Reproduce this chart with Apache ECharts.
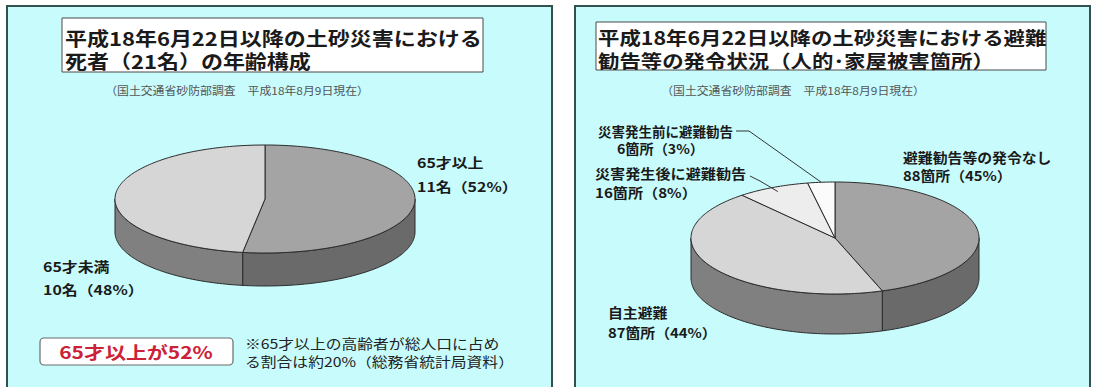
<!DOCTYPE html>
<html><head><meta charset="utf-8">
<script src="https://cdn.jsdelivr.net/npm/echarts@6/dist/echarts.min.js"></script>
<style>html,body{margin:0;padding:0;background:#fff}#c{width:1093px;height:387px}</style>
</head><body><div id="c"></div>
<script>
// ---- data ----
const ageCategories = ['65才以上', '65才未満'];
const ageValues = [11, 10];
const ageUnit = '名';
const warnCategories = ['避難勧告等の発令なし', '自主避難', '災害発生後に避難勧告', '災害発生前に避難勧告'];
const warnValues = [88, 87, 16, 6];
const warnUnit = '箇所';
const elderlyShareNote = 20;

// ---- layout ----
const FONT = '"Noto Sans CJK JP", "Noto Sans", sans-serif';
const SX = 1.18;
const PIE_L = {cx: 265, cy: 199, rx: 150, ry: 54, depth: 33};
const PIE_R = {cx: 835, cy: 238, rx: 144, ry: 56, depth: 40};
const TOP_COLORS_L = ['#a4a4a4', '#d6d6d6'];
const WALL_COLORS_L = ['#6a6a6a', '#808080'];
const TOP_COLORS_R = ['#a4a4a4', '#d6d6d6', '#ededed', '#fbfbfb'];
const WALL_COLORS_R = ['#6a6a6a', '#808080', '#9a9a9a', '#b0b0b0'];

const sum = a => a.reduce((s, v) => s + v, 0);
const pct = (v, a) => Math.round(v / sum(a) * 100);
function ang(values, i) { return sum(values.slice(0, i)) / sum(values) * Math.PI * 2; }
function pt(L, t, r, dy) { return [L.cx + L.rx * r * Math.sin(t), L.cy - L.ry * r * Math.cos(t) + (dy || 0)]; }
function arc(L, a0, a1, dy) {
  const n = Math.max(2, Math.ceil((a1 - a0) / 0.02));
  const out = [];
  for (let k = 0; k <= n; k++) out.push(pt(L, a0 + (a1 - a0) * k / n, 1, dy));
  return out;
}
function pieRenderer(L, values, tops, walls) {
  return function (params, api) {
    const i = params.dataIndex;
    const a0 = ang(values, i);
    const a1 = a0 + api.value(0) / sum(values) * Math.PI * 2;
    const children = [];
    const w0 = Math.max(a0, Math.PI / 2), w1 = Math.min(a1, Math.PI * 1.5);
    if (w1 > w0) {
      const topArc = arc(L, w0, w1, 0);
      const botArc = arc(L, w0, w1, L.depth).reverse();
      children.push({type: 'polygon', shape: {points: topArc.concat(botArc)},
        style: {fill: walls[i], stroke: '#2a2a2a', lineWidth: 1}});
    }
    children.push({type: 'polygon', shape: {points: [[L.cx, L.cy]].concat(arc(L, a0, a1, 0))},
      style: {fill: tops[i], stroke: '#2a2a2a', lineWidth: 1}});
    return {type: 'group', children: children};
  };
}
function midPoint(L, values, i, r) {
  const a = (ang(values, i) + ang(values, i + 1)) / 2;
  return pt(L, a, r, 0);
}
function txt(x, y, text, size, opt) {
  opt = opt || {};
  return {type: 'text', x: x, y: y, scaleX: opt.sx || SX, z: 10,
    style: {text: text, fontSize: size, fontFamily: FONT, fontWeight: opt.weight || 'bold',
      fill: opt.fill || '#1a1a1a', align: opt.align || 'left', verticalAlign: 'middle',
      textAlign: opt.align || 'left', textVerticalAlign: 'middle', lineHeight: opt.lh || size * 1.3}};
}

const totalAge = sum(ageValues);
const graphics = [
  // panels
  {type: 'rect', shape: {x: 7, y: 6, width: 545, height: 390}, z: 0, style: {fill: '#c8fcfc', stroke: '#36504f', lineWidth: 2}},
  {type: 'rect', shape: {x: 575, y: 6, width: 515, height: 390}, z: 0, style: {fill: '#c8fcfc', stroke: '#36504f', lineWidth: 2}},
  // title boxes
  {type: 'rect', shape: {x: 62, y: 18, width: 421, height: 54}, z: 1, style: {fill: '#ffffff', stroke: '#4a4a4a', lineWidth: 1}},
  {type: 'rect', shape: {x: 596, y: 22, width: 450, height: 48}, z: 1, style: {fill: '#ffffff', stroke: '#4a4a4a', lineWidth: 1}},
  txt(65, 38, '平成18年6月22日以降の土砂災害における', 18.8, {sx: 1.17}),
  txt(65, 61, '死者（' + totalAge + ageUnit + '）の年齢構成', 18.8, {sx: 1.17}),
  txt(598, 37, '平成18年6月22日以降の土砂災害における避難', 18.3, {sx: 1.17}),
  txt(598, 60, '勧告等の発令状況（人的･家屋被害箇所）', 18.3, {sx: 1.17}),
  txt(237, 90, '（国土交通省砂防部調査　平成18年8月9日現在）', 11, {weight: 'normal', fill: '#555', align: 'center', sx: 1.08}),
  txt(793, 90, '（国土交通省砂防部調査　平成18年8月9日現在）', 11, {weight: 'normal', fill: '#555', align: 'center', sx: 1.08}),
  // left labels
  txt(417, 174, ageCategories[0] + '\n' + ageValues[0] + ageUnit + '（' + pct(ageValues[0], ageValues) + '%）', 13.5, {lh: 24}),
  txt(43, 278, ageCategories[1] + '\n' + ageValues[1] + ageUnit + '（' + pct(ageValues[1], ageValues) + '%）', 13.5, {lh: 23}),
  // red box
  {type: 'rect', shape: {x: 40, y: 338, width: 193, height: 27, r: 4}, z: 1, style: {fill: '#ffffff', stroke: '#6a6a6a', lineWidth: 1.2}},
  txt(136, 352, ageCategories[0].replace('以上', '以上が') + pct(ageValues[0], ageValues) + '%', 17.5, {align: 'center', fill: '#cc2238', sx: 1.2}),
  txt(245, 352, '※65才以上の高齢者が総人口に占め\nる割合は約' + elderlyShareNote + '%（総務省統計局資料）', 13.5, {weight: 'normal', fill: '#222', lh: 18, sx: 1.17}),
  // right labels
  txt(903, 166, warnCategories[0] + '\n' + warnValues[0] + warnUnit + '（' + pct(warnValues[0], warnValues) + '%）', 13.5, {lh: 18, sx: 1.1}),
  txt(608, 322, warnCategories[1] + '\n' + warnValues[1] + warnUnit + '（' + pct(warnValues[1], warnValues) + '%）', 13.5, {lh: 20, sx: 1.1}),
  txt(595, 182, warnCategories[2] + '\n' + warnValues[2] + warnUnit + '（' + pct(warnValues[2], warnValues) + '%）', 13.5, {lh: 19, sx: 1.12}),
  txt(598, 131, warnCategories[3], 13.5, {sx: 1.0}),
  txt(617, 148, warnValues[3] + warnUnit + '（' + pct(warnValues[3], warnValues) + '%）', 13.5, {sx: 1.05}),
  // leader lines
  {type: 'polyline', z: 9, shape: {points: [[736, 131], [749, 131], midPoint(PIE_R, warnValues, 3, 1.0)]}, style: {stroke: '#333', lineWidth: 1, fill: null}},
  {type: 'polyline', z: 9, shape: {points: [[750, 176], [760, 181], midPoint(PIE_R, warnValues, 2, 0.92)]}, style: {stroke: '#333', lineWidth: 1, fill: null}}
];

const chart = echarts.init(document.getElementById('c'), null, {renderer: 'svg'});
chart.setOption({
  animation: false,
  backgroundColor: '#ffffff',
  graphic: {elements: graphics},
  series: [
    {type: 'custom', coordinateSystem: 'none', z: 5, data: ageValues.map((v, i) => ({name: ageCategories[i], value: [v]})),
      renderItem: pieRenderer(PIE_L, ageValues, TOP_COLORS_L, WALL_COLORS_L)},
    {type: 'custom', coordinateSystem: 'none', z: 5, data: warnValues.map((v, i) => ({name: warnCategories[i], value: [v]})),
      renderItem: pieRenderer(PIE_R, warnValues, TOP_COLORS_R, WALL_COLORS_R)}
  ]
});
</script></body></html>
